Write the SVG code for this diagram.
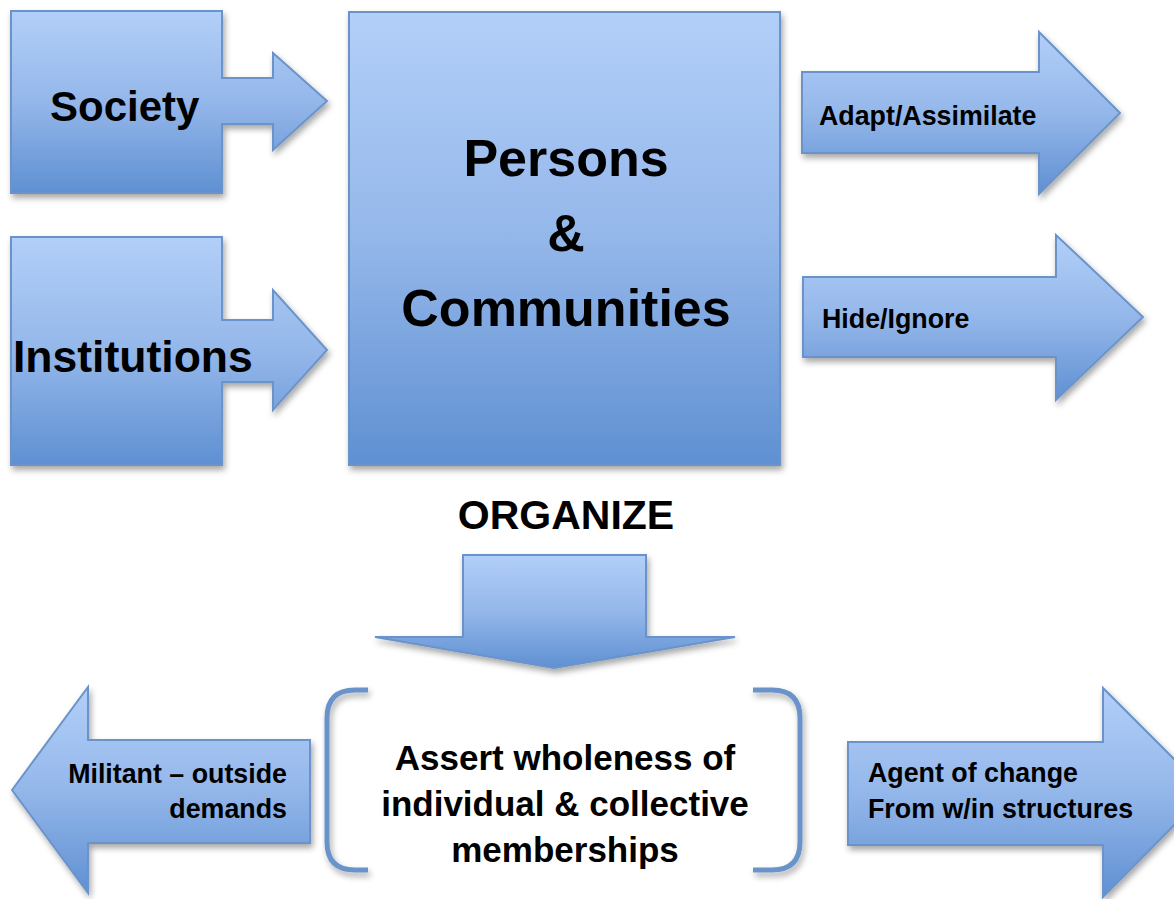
<svg xmlns="http://www.w3.org/2000/svg" width="1174" height="899" viewBox="0 0 1174 899">
  <defs>
    <linearGradient id="blueFill" x1="0" y1="0" x2="0" y2="1">
      <stop offset="0" stop-color="#b2cff8"/>
      <stop offset="0.5" stop-color="#94b7ea"/>
      <stop offset="1" stop-color="#5f90d2"/>
    </linearGradient>
    <filter id="shadow" x="-10%" y="-10%" width="130%" height="130%">
      <feDropShadow dx="2" dy="4" stdDeviation="3" flood-color="#000" flood-opacity="0.35"/>
    </filter>
  </defs>
  <style>
    .shape { fill: url(#blueFill); stroke: #6b94c9; stroke-width: 2; filter: url(#shadow); }
    .bracket { fill: none; stroke: #6b94c9; stroke-width: 5; filter: url(#shadow); }
    text { font-family: "Liberation Sans", Arial, sans-serif; font-weight: bold; fill: #000; }
    .huge { font-size: 52px; text-anchor: middle; }
    .mid { font-size: 35px; text-anchor: middle; }
    .small { font-size: 26.8px; }
  </style>

  <rect width="1174" height="899" fill="#fff"/>

  <g id="society">
    <polygon class="shape" points="11,11 222,11 222,78 273,78 273,53 327,101 273,150 273,124 222,124 222,193 11,193"/>
    <text x="50" y="121" font-size="42">Society</text>
  </g>

  <g id="institutions">
    <polygon class="shape" points="11,237 222,237 222,320 273,320 273,290 327,350 273,410 273,382 222,382 222,465 11,465"/>
    <text x="13" y="372" font-size="44.5">Institutions</text>
  </g>

  <g id="persons">
    <rect class="shape" x="349" y="12" width="431" height="453"/>
    <text class="huge" x="566" y="176">Persons</text>
    <text class="huge" x="566" y="251">&amp;</text>
    <text class="huge" x="566" y="326">Communities</text>
  </g>

  <g id="connectors">
    <g id="adapt">
      <polygon class="shape" points="802,72 1039,72 1039,32 1120,113 1039,194 1039,153 802,153"/>
      <text class="small" x="819" y="125">Adapt/Assimilate</text>
    </g>
    <g id="hide">
      <polygon class="shape" points="803,277 1056,277 1056,235 1143,317 1056,400 1056,357 803,357"/>
      <text class="small" x="822" y="328">Hide/Ignore</text>
    </g>
    <g id="organize">
      <text x="566" y="529" font-size="41" text-anchor="middle">ORGANIZE</text>
      <polygon class="shape" points="463,555 646,555 646,637 735,637 554,668 375,637 463,637"/>
    </g>
    <g id="militant">
      <polygon class="shape" points="12,790 88,687 88,740 310,740 310,843 88,843 88,893"/>
      <text class="small" x="287" y="783" text-anchor="end">Militant – outside</text>
      <text class="small" x="287" y="818" text-anchor="end">demands</text>
    </g>
    <g id="agent">
      <polygon class="shape" points="848,742 1103,742 1103,688 1207,792 1103,897 1103,845 848,845"/>
      <text class="small" x="868" y="782">Agent of change</text>
      <text class="small" x="868" y="818">From w/in structures</text>
    </g>
  </g>

  <g id="assert">
    <path class="bracket" d="M368,690 L355,690 Q327,690 327,718 L327,842 Q327,870 355,870 L368,870"/>
    <path class="bracket" d="M753,690 L772,690 Q800,690 800,718 L800,842 Q800,870 772,870 L753,870"/>
    <text class="mid" x="565" y="770">Assert wholeness of</text>
    <text class="mid" x="565" y="816">individual &amp; collective</text>
    <text class="mid" x="565" y="862">memberships</text>
  </g>
</svg>
